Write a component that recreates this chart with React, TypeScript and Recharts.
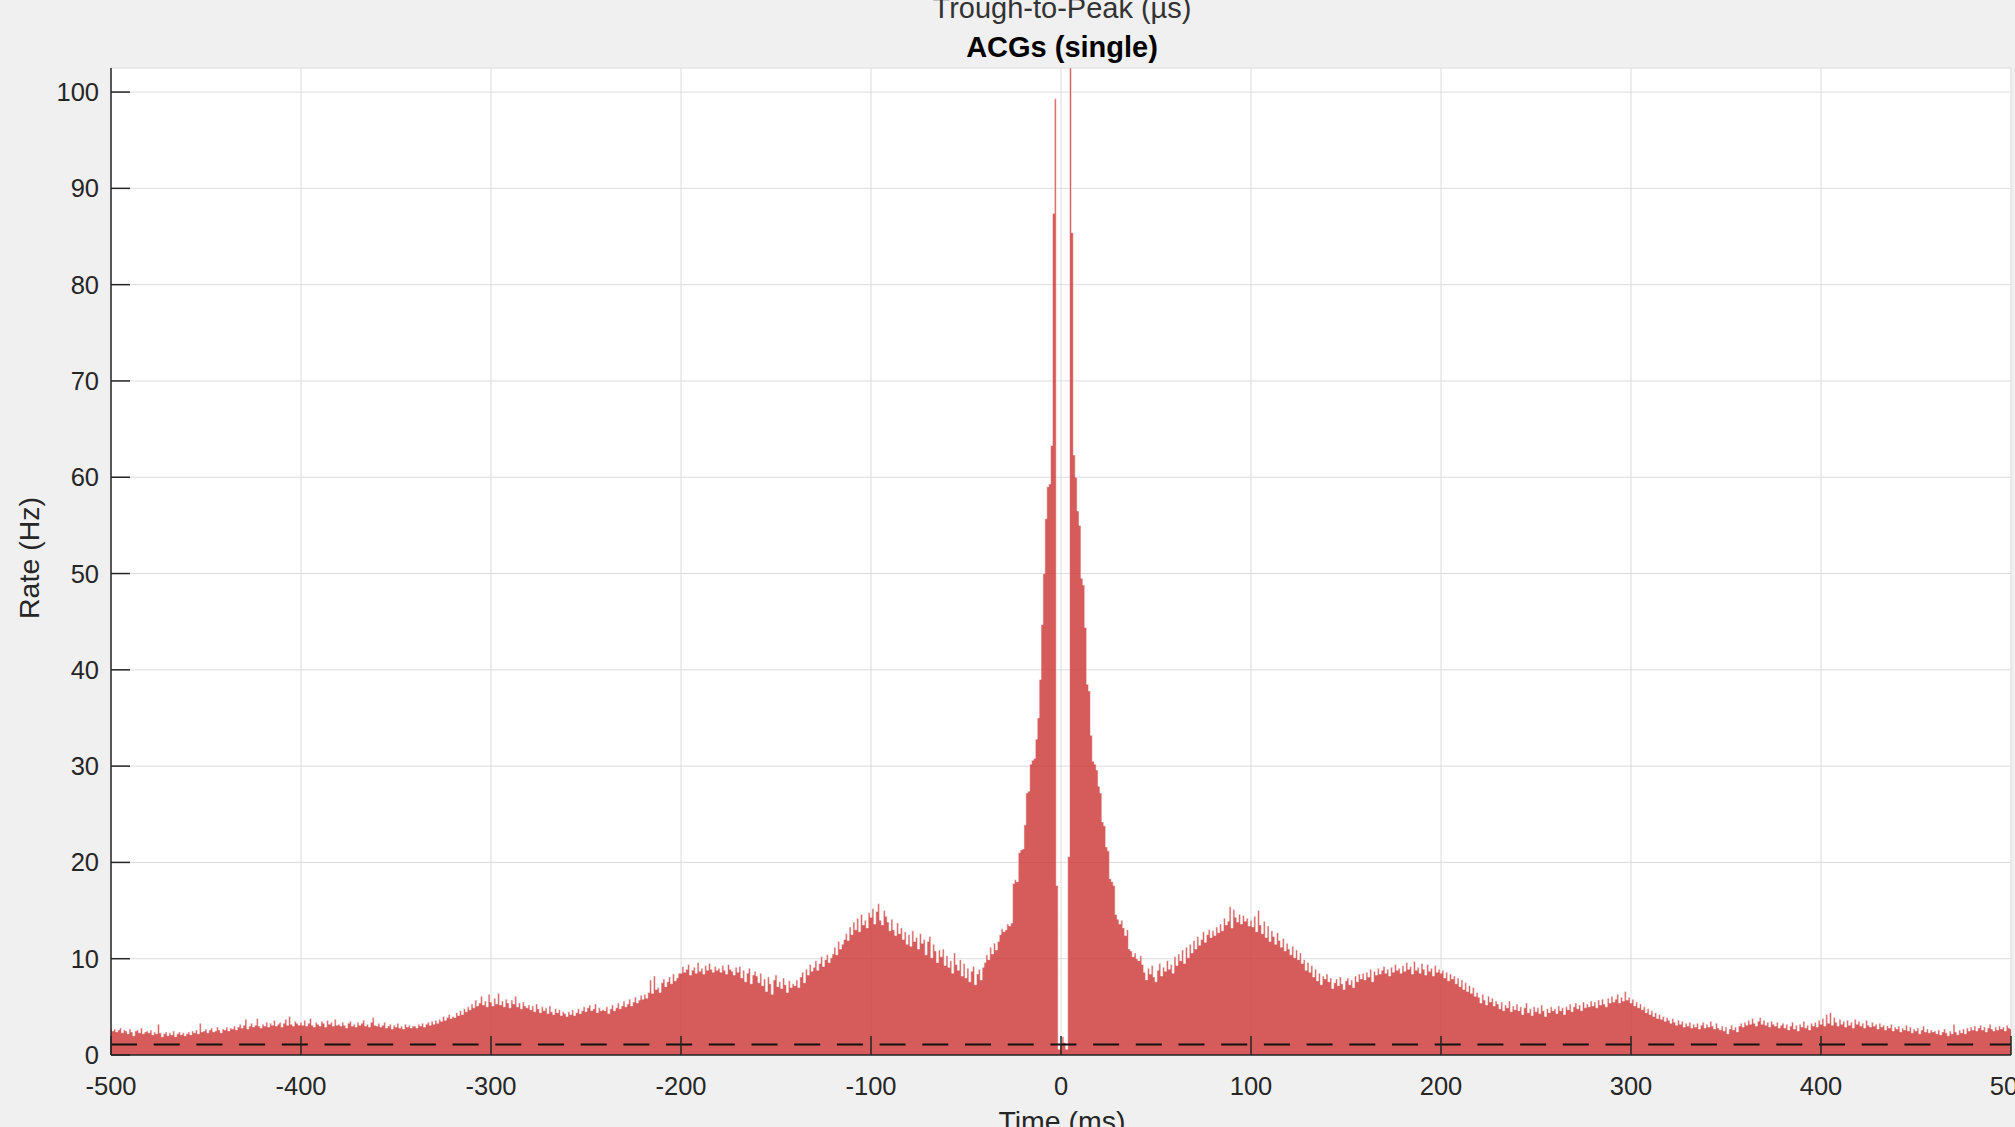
import React from 'react';
import { ComposedChart, Area, XAxis, YAxis, CartesianGrid, ReferenceLine } from 'recharts';

// ---- data -------------------------------------------------------------
// Bin centres run from BIN_START_MS in steps of BIN_WIDTH_MS (1001 bins, -500 .. 500 ms)
const BIN_START_MS = -500;
const BIN_WIDTH_MS = 1;

// Rate (Hz) per 1 ms bin (20 bins per row)
const rates: number[] = [
  // -500 .. -401
  2.8, 2.5, 2.7, 2.4, 2.6, 2.8, 2.3, 2.6, 2.5, 2.2, 2.7, 2.4, 2.0, 2.5, 2.6, 2.3, 2.8, 2.2, 2.4, 2.5,
  2.3, 2.6, 2.1, 2.4, 2.2, 3.2, 2.3, 1.9, 2.2, 2.4, 2.0, 2.3, 2.1, 2.5, 1.9, 2.2, 2.4, 2.1, 2.3, 2.0,
  2.2, 2.4, 2.1, 2.5, 2.3, 2.6, 2.2, 3.3, 2.4, 2.5, 2.7, 2.3, 2.6, 2.8, 2.4, 2.5, 2.9, 2.6, 2.3, 2.7,
  2.6, 2.9, 2.5, 2.8, 2.7, 3.0, 2.6, 2.9, 3.2, 2.8, 3.1, 3.7, 2.7, 3.0, 3.3, 2.9, 3.1, 3.8, 3.0, 2.8,
  3.2, 3.0, 3.4, 2.9, 3.3, 3.1, 3.6, 3.0, 3.2, 3.4, 2.9, 3.3, 3.7, 3.1, 4.0, 3.2, 3.0, 3.5, 3.3, 3.1,
  // -400 .. -301
  3.4, 3.1, 3.6, 3.0, 3.3, 3.8, 3.1, 2.9, 3.4, 3.2, 3.0, 3.5, 3.3, 2.9, 3.6, 3.2, 3.4, 3.0, 3.7, 3.1,
  3.2, 3.0, 3.4, 3.1, 2.8, 3.3, 3.5, 3.0, 3.2, 2.9, 3.4, 3.1, 3.3, 3.6, 3.0, 3.2, 2.9, 3.4, 3.9, 3.1,
  3.0, 3.3, 2.9, 3.1, 3.4, 2.8, 3.0, 3.2, 2.7, 3.1, 2.9, 3.3, 2.8, 3.0, 2.7, 3.2, 2.9, 3.1, 2.8, 3.0,
  3.0, 2.8, 3.2, 3.0, 3.3, 2.9, 3.2, 3.4, 3.1, 3.5, 3.2, 3.6, 3.3, 3.7, 3.5, 4.0, 3.6, 3.9, 4.2, 3.8,
  4.0, 3.9, 4.4, 4.1, 4.6, 4.2, 4.8, 4.5, 5.0, 4.7, 5.3, 4.9, 5.7, 5.1, 5.4, 6.1, 5.2, 5.6, 5.0, 6.3,
  // -300 .. -201
  5.5, 5.1, 5.9, 5.3, 6.4, 5.2, 5.6, 5.0, 5.8, 5.4, 4.9, 5.7, 5.3, 6.1, 5.0, 5.4, 4.8, 5.5, 5.1, 4.9,
  5.2, 4.7, 5.1, 4.5, 5.3, 4.8, 4.4, 5.0, 4.6, 4.9, 4.3, 5.1, 4.5, 4.2, 4.8, 4.4, 4.7, 4.1, 4.5, 4.3,
  4.0, 4.5, 4.2, 4.7, 4.1, 4.4, 4.8, 4.3, 4.6, 5.0, 4.5, 4.9, 5.2, 4.6, 4.8, 5.3, 4.4, 4.9, 4.6, 4.7,
  4.6, 5.0, 4.3, 4.8, 5.2, 4.6, 4.9, 5.4, 4.8, 5.1, 5.6, 5.0, 5.3, 5.8, 5.1, 5.5, 6.0, 5.4, 5.7, 6.2,
  5.8, 6.3, 5.9, 6.5, 7.8, 6.4, 8.2, 6.8, 7.0, 6.5, 7.5, 7.9, 7.1, 7.6, 8.1, 7.4, 8.4, 7.7, 8.0, 8.5,
  // -200 .. -101
  8.5, 9.2, 8.6, 8.9, 9.4, 8.3, 8.8, 9.1, 8.5, 9.6, 8.7, 9.0, 8.4, 9.3, 8.8, 9.5, 8.9, 8.6, 9.2, 8.8,
  9.0, 8.6, 9.3, 8.8, 8.4, 9.4, 8.9, 8.7, 8.3, 9.1, 8.6, 9.2, 8.0, 8.8, 7.6, 8.5, 9.0, 7.4, 8.3, 8.7,
  8.2, 7.5, 8.5, 7.2, 7.9, 6.6, 8.1, 7.4, 6.3, 7.8, 8.3, 7.1, 7.6, 6.9, 8.0, 7.3, 6.5, 7.7, 7.0, 7.4,
  7.2, 7.8, 7.0, 8.1, 8.6, 7.5, 8.9, 8.3, 9.4, 8.7, 9.1, 9.8, 8.8, 9.5, 10.2, 9.2, 9.9, 10.4, 9.6, 10.1,
  10.5, 11.2, 10.4, 11.8, 11.0, 11.5, 12.0, 12.6, 11.9, 13.3, 12.5, 13.8, 13.0, 14.2, 12.8, 14.6, 13.5, 14.0, 13.2, 14.8,
  // -100 .. -1
  14.3, 15.2, 13.6, 14.9, 15.7, 14.0, 13.5, 15.0, 14.4, 13.8, 12.9, 14.1, 13.0, 12.4, 13.7, 12.6, 13.2, 12.0, 12.8, 11.5,
  12.5, 11.3, 12.9, 11.8, 12.2, 11.0, 12.6, 11.6, 12.0, 10.4, 11.8, 12.3, 10.1, 11.5, 10.8, 9.6, 10.9, 10.2, 11.0, 9.3,
  10.3, 9.1, 9.8, 8.5, 10.6, 9.4, 8.8, 9.9, 8.2, 9.5, 8.0, 9.0, 7.6, 8.7, 9.2, 7.3, 8.4, 8.9, 7.8, 9.1,
  9.6, 10.4, 9.9, 11.2, 10.5, 11.6, 10.9, 11.8, 12.5, 13.1, 12.8, 13.0, 13.6, 13.4, 13.7, 17.8, 18.2, 18.0, 21.0, 21.3,
  21.4, 23.9, 27.2, 27.4, 30.2, 30.6, 30.8, 32.8, 35.0, 39.0, 44.7, 50.0, 55.7, 59.0, 59.3, 63.3, 87.4, 99.3, 17.6, 0.6,
  // 0 .. 99
  1.2, 1.9, 1.3, 0.6, 20.6, 102.5, 85.4, 62.3, 60.0, 56.5, 55.0, 49.5, 48.8, 44.4, 38.5, 37.8, 33.2, 30.5, 30.2, 29.6,
  27.9, 27.2, 24.2, 23.8, 21.6, 21.2, 18.3, 18.0, 17.6, 14.6, 14.1, 13.6, 14.0, 13.2, 12.4, 13.0, 11.0, 10.8, 10.2, 10.6,
  10.0, 9.8, 10.3, 9.4, 8.6, 7.8, 9.0, 8.4, 9.3, 8.1, 7.6, 8.8, 9.5, 8.2, 9.1, 8.7, 9.8, 8.9, 9.4, 8.5,
  10.2, 9.3, 10.5, 9.8, 10.9, 9.5, 11.2, 10.1, 11.5, 10.6, 11.9, 11.0, 12.3, 11.4, 12.0, 12.8, 11.7, 12.5, 13.0, 12.2,
  12.9, 12.4, 13.3, 12.7, 13.6, 12.9, 14.2, 13.5, 13.9, 15.4, 13.2, 15.1, 14.3, 13.8, 14.6, 13.6, 14.5, 13.9, 14.2, 13.4,
  // 100 .. 199
  14.0, 13.3, 14.4, 12.8, 15.0, 13.5, 12.6, 13.9, 12.2, 13.4, 11.8, 12.9, 12.3, 11.5, 12.7, 11.9, 11.2, 12.1, 10.8, 11.6,
  11.0, 10.4, 11.3, 10.1, 10.9, 9.9, 10.6, 9.5, 9.9, 8.8, 9.6, 8.6, 9.3, 8.1, 8.9, 7.7, 8.5, 7.3, 8.2, 7.9,
  8.4, 7.6, 8.0, 6.9, 7.5, 7.9, 7.2, 8.1, 7.4, 6.8, 7.7, 8.0, 7.3, 7.8, 7.0, 8.2, 7.6, 8.4, 7.9, 8.5,
  7.8, 8.6, 8.1, 8.9, 7.6, 8.7, 8.3, 9.0, 8.4, 8.8, 9.2, 8.5, 8.9, 8.2, 9.1, 8.6, 9.4, 8.8, 9.0, 8.5,
  9.3, 8.7, 9.6, 8.9, 9.2, 8.4, 9.7, 8.8, 9.1, 8.5, 9.5, 8.9, 8.3, 9.4, 8.7, 9.0, 8.2, 9.3, 8.6, 8.9,
  // 200 .. 299
  8.5, 8.8, 8.0, 8.6, 7.7, 8.4, 7.9, 8.2, 7.4, 8.0, 7.1, 7.8, 6.8, 7.5, 6.6, 7.2, 6.4, 7.0, 6.1, 6.5,
  6.0, 5.4, 6.3, 5.7, 5.2, 6.1, 5.5, 5.9, 5.1, 5.6, 5.3, 4.8, 5.5, 4.6, 5.2, 4.9, 5.6, 4.5, 5.1, 4.7,
  5.3, 4.6, 5.0, 4.2, 4.9, 5.4, 4.4, 4.8, 4.1, 5.0, 4.5, 4.9, 4.3, 5.2, 4.6, 4.0, 4.8, 4.4, 5.0, 4.6,
  4.8, 4.3, 5.1, 4.6, 4.9, 4.2, 5.0, 4.7, 5.3, 4.5, 5.0, 5.4, 4.8, 5.2, 4.6, 5.5, 4.9, 5.3, 5.0, 5.6,
  5.1, 5.5, 4.9, 5.7, 5.2, 5.8, 5.3, 5.0, 5.9, 5.4, 6.1, 5.5, 5.8, 6.3, 5.4, 6.0, 5.6, 6.6, 5.7, 6.0,
  // 300 .. 399
  5.4, 5.8, 5.1, 5.5, 4.9, 5.3, 4.7, 5.0, 4.4, 4.8, 4.2, 4.6, 4.0, 4.4, 3.8, 4.2, 3.7, 4.0, 3.5, 3.9,
  3.6, 3.3, 3.8, 3.4, 3.1, 3.6, 3.2, 3.5, 2.9, 3.3, 3.0, 3.4, 2.8, 3.2, 2.9, 3.3, 2.7, 3.1, 3.4, 2.8,
  3.2, 2.9, 3.5, 3.0, 2.7, 3.3, 2.8, 2.6, 3.0, 2.5, 2.9, 2.2, 2.7, 3.1, 2.6, 2.9, 2.4, 3.0, 3.3, 2.9,
  3.4, 3.1, 3.6, 3.2, 3.8, 3.3, 3.0, 3.5, 3.9, 3.2, 3.6, 3.1, 3.4, 2.9, 3.5, 3.2, 3.0, 3.4, 2.8, 3.1,
  3.3, 2.8, 3.2, 2.6, 3.0, 3.4, 2.7, 3.1, 2.5, 3.2, 2.9, 3.5, 2.8, 3.1, 2.6, 3.3, 3.0, 3.4, 2.9, 3.6,
  // 400 .. 500
  3.2, 3.8, 3.0, 4.2, 3.3, 4.4, 3.1, 3.9, 3.4, 3.0, 3.7, 3.2, 3.5, 2.9, 3.6, 3.1, 3.4, 2.8, 3.7, 3.2,
  3.5, 3.0, 3.3, 2.8, 3.6, 3.1, 2.9, 3.4, 3.0, 3.2, 2.7, 3.3, 2.9, 3.1, 2.6, 3.0, 2.8, 3.2, 2.5, 2.9,
  2.7, 3.0, 2.4, 2.8, 2.6, 3.1, 2.5, 2.9, 2.3, 2.7, 2.5, 2.8, 2.2, 2.6, 3.0, 2.4, 2.7, 2.3, 2.6, 2.4,
  2.5, 2.2, 2.6, 2.1, 2.4, 2.7, 2.3, 2.0, 2.5, 2.2, 3.2, 2.4, 2.1, 2.6, 2.3, 2.7, 2.2, 2.8, 2.5, 2.9,
  2.6, 3.0, 2.5, 2.8, 3.1, 2.6, 2.9, 2.4, 2.8, 3.2, 2.7, 2.5, 2.9, 2.6, 3.0, 2.7, 2.9, 2.5, 3.1, 2.8,
  2.7,
];

const xTicks = [-500, -400, -300, -200, -100, 0, 100, 200, 300, 400, 500];
const yTicks = [0, 10, 20, 30, 40, 50, 60, 70, 80, 90, 100];
const xDomain: [number, number] = [-500, 500];
const yDomain: [number, number] = [0, 102.5];
const baselineRate = 1.1; // dashed reference (Hz)

const titleText = 'ACGs (single)';
const subtitleText = 'Trough-to-Peak (µs)';
const xLabelText = 'Time (ms)';
const yLabelText = 'Rate (Hz)';

const data = rates.map((rate, i) => ({ t: BIN_START_MS + i * BIN_WIDTH_MS, rate }));

// ---- styling ----------------------------------------------------------
const FONT = '"Liberation Sans", Arial, Helvetica, sans-serif';
const AXIS_COLOR = '#262626';
const W = 2015;
const H = 1127;

export default function App() {
  return (
    <div
      style={{
        position: 'fixed',
        left: 0,
        top: 0,
        width: W,
        height: H,
        overflow: 'hidden',
        background: '#f0f0f0',
        fontFamily: FONT,
      }}
    >
      <div style={{ position: 'absolute', left: 0, top: 0 }}>
        <ComposedChart
          width={2100}
          height={1160}
          data={data}
          margin={{ top: 68, right: 89, bottom: 0, left: 0 }}
        >
          <CartesianGrid
            fill="#ffffff"
            fillOpacity={1}
            stroke="#dcdcdc"
            strokeWidth={1}
          />
          <XAxis
            type="number"
            dataKey="t"
            domain={xDomain}
            ticks={xTicks}
            interval={0}
            allowDataOverflow
            height={105}
            tickSize={-19}
            tickMargin={41}
            axisLine={{ stroke: AXIS_COLOR, strokeWidth: 1.5 }}
            tickLine={{ stroke: AXIS_COLOR, strokeWidth: 1.5 }}
            tick={{ fill: AXIS_COLOR, fontSize: 25.5, fontFamily: FONT }}
          />
          <YAxis
            type="number"
            domain={yDomain}
            ticks={yTicks}
            interval={0}
            allowDataOverflow
            width={111}
            tickSize={-19}
            tickMargin={31}
            axisLine={{ stroke: AXIS_COLOR, strokeWidth: 1.5 }}
            tickLine={{ stroke: AXIS_COLOR, strokeWidth: 1.5 }}
            tick={{ fill: AXIS_COLOR, fontSize: 25.5, fontFamily: FONT }}
          />
          <Area
            type="step"
            dataKey="rate"
            baseValue={0}
            fill="rgb(204,51,51)"
            fillOpacity={0.8}
            stroke="#ffffff"
            strokeOpacity={0.65}
            strokeWidth={0.8}
            dot={false}
            activeDot={false}
            isAnimationActive={false}
          />
          <ReferenceLine
            y={baselineRate}
            stroke="#111111"
            strokeWidth={2}
            strokeDasharray="26 16.7"
          />
        </ComposedChart>
      </div>
      <svg
        width={W}
        height={H}
        style={{ position: 'absolute', left: 0, top: 0, pointerEvents: 'none' }}
      >
        <text
          x={1062}
          y={18}
          textAnchor="middle"
          fontFamily={FONT}
          fontSize={29}
          fill="#333333"
        >
          {subtitleText}
        </text>
        <text
          x={1062}
          y={57}
          textAnchor="middle"
          fontFamily={FONT}
          fontSize={29}
          fontWeight="bold"
          fill="#000000"
        >
          {titleText}
        </text>
        <text
          x={1062}
          y={1130.5}
          textAnchor="middle"
          fontFamily={FONT}
          fontSize={28.5}
          fill={AXIS_COLOR}
        >
          {xLabelText}
        </text>
        <text
          x={39}
          y={558}
          textAnchor="middle"
          fontFamily={FONT}
          fontSize={28.5}
          fill={AXIS_COLOR}
          transform="rotate(-90 39 558)"
        >
          {yLabelText}
        </text>
      </svg>
    </div>
  );
}
